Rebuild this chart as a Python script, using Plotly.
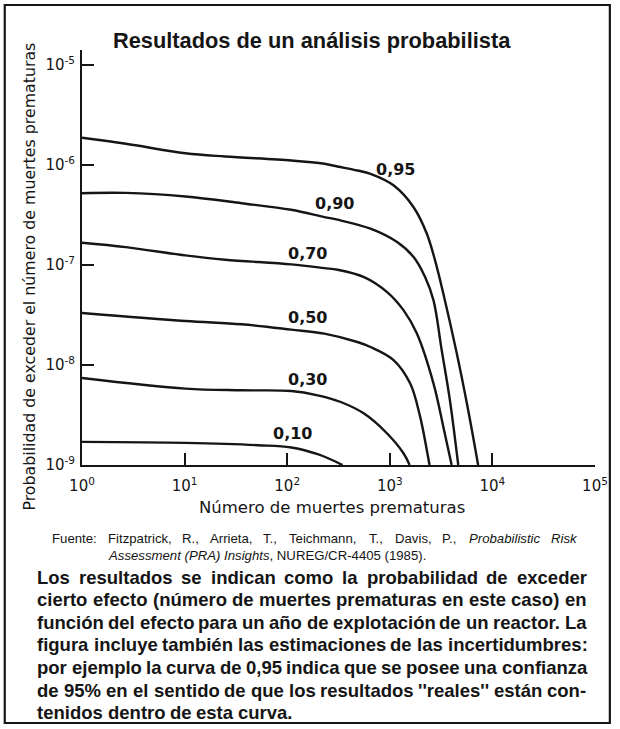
import plotly.graph_objects as go

# ---------------- data (log10 values) ----------------
# x: log10(número de muertes prematuras), y: log10(probabilidad de exceder)
logn_095 = [0, 0.427, 1.008, 1.395, 2.039, 2.362, 2.49, 2.684, 2.812, 3.039, 3.232, 3.361, 3.441, 3.522, 3.65, 3.76, 3.861]
logp_095 = [-5.728, -5.788, -5.882, -5.915, -5.955, -5.988, -6.015, -6.055, -6.088, -6.205, -6.422, -6.687, -6.954, -7.287, -7.87, -8.43, -9.0]

logn_090 = [0, 0.427, 1.008, 1.555, 2.039, 2.362, 2.49, 2.812, 3.071, 3.232, 3.344, 3.426, 3.506, 3.586, 3.667]
logp_090 = [-6.282, -6.279, -6.315, -6.382, -6.448, -6.521, -6.547, -6.637, -6.771, -6.921, -7.121, -7.354, -7.853, -8.353, -9.0]

logn_070 = [0, 0.427, 1.008, 1.395, 2.039, 2.362, 2.49, 2.749, 2.974, 3.135, 3.264, 3.426, 3.522, 3.603]
logp_070 = [-6.777, -6.821, -6.904, -6.947, -6.994, -7.031, -7.047, -7.121, -7.271, -7.454, -7.686, -8.186, -8.619, -9.0]

logn_050 = [0, 1.008, 1.555, 2.039, 2.362, 2.684, 2.812, 3.039, 3.199, 3.296, 3.361, 3.387]
logp_050 = [-7.48, -7.56, -7.593, -7.646, -7.686, -7.77, -7.82, -7.953, -8.186, -8.519, -8.852, -9.0]

logn_030 = [0, 1.008, 1.555, 2.039, 2.297, 2.522, 2.749, 2.974, 3.135, 3.193]
logp_030 = [-8.13, -8.236, -8.253, -8.26, -8.303, -8.37, -8.486, -8.685, -8.885, -9.0]

logn_010 = [0, 1.008, 1.717, 2.039, 2.297, 2.426, 2.539]
logp_010 = [-8.769, -8.779, -8.802, -8.825, -8.892, -8.945, -9.0]

curve_labels = ["0,95", "0,90", "0,70", "0,50", "0,30", "0,10"]
label_logn = [3.06, 2.458, 2.2, 2.2, 2.2, 2.055]
label_logp = [-6.04, -6.388, -6.881, -7.52, -8.146, -8.685]

x_tick_exp = [0, 1, 2, 3, 4, 5]
y_tick_exp = [-9, -8, -7, -6, -5]

title_text = "Resultados de un análisis probabilista"
x_title = "Número de muertes prematuras"
y_title = "Probabilidad de exceder el número de muertes prematuras"
source_line1_plain = "Fuente: Fitzpatrick, R., Arrieta, T., Teichmann, T., Davis, P.,"
source_line1_italic = "Probabilistic Risk"
source_line2 = "<i>Assessment (PRA) Insights</i>, NUREG/CR-4405 (1985)."
caption_lines = [
    "Los resultados se indican como la probabilidad de exceder",
    "cierto efecto (número de muertes prematuras en este caso) en",
    "función del efecto para un año de explotación de un reactor. La",
    "figura incluye también las estimaciones de las incertidumbres:",
    "por ejemplo la curva de 0,95 indica que se posee una confianza",
    "de 95% en el sentido de que los resultados ''reales'' están con-",
    "tenidos dentro de esta curva.",
]

# ---------------- layout geometry ----------------
W, H = 620, 729
ML, MR, MT, MB = 82, 20, 50, 264
PW = W - ML - MR
PH = H - MT - MB


def px(xp):
    return (xp - ML) / PW


def py(yp):
    return (H - MB - yp) / PH


INK = "#151515"
SANS = "Liberation Sans, Arial, sans-serif"
DEJA = "DejaVu Sans, sans-serif"

# approximate advance widths (1/1000 em) of Liberation Sans, used to justify text lines
_BOLD = {" ": 278, "'": 238, "%": 889, "(": 333, ")": 333, ",": 278, "-": 333, ".": 278, ":": 333,
         "L": 611,
         "a": 556, "b": 611, "c": 556, "d": 611, "e": 556, "f": 333, "g": 611, "h": 611, "i": 278,
         "j": 278, "k": 556, "l": 278, "m": 889, "n": 611, "o": 611, "p": 611, "q": 611, "r": 389,
         "s": 556, "t": 333, "u": 611, "v": 556, "w": 778, "x": 556, "y": 556, "z": 500,
         "á": 556, "é": 556, "í": 278, "ó": 611, "ú": 611, "ñ": 611}
_REG = {" ": 278, "(": 333, ")": 333, ",": 278, "-": 333, ".": 278, "/": 278, ":": 278,
        "A": 667, "C": 722, "D": 722, "F": 611, "P": 667, "R": 722, "T": 611,
        "a": 556, "b": 556, "c": 500, "d": 556, "e": 556, "f": 278, "g": 556, "h": 556, "i": 222,
        "k": 500, "l": 222, "m": 833, "n": 556, "o": 556, "p": 556, "r": 333, "s": 500, "t": 278,
        "u": 556, "v": 500, "z": 500}


def text_w(s, table, size):
    return sum(table.get(ch, 556) for ch in s) * size / 1000.0


def justified(words, x0, x1, y, size, table, family, styles=None, justify=True):
    """Return annotations placing the words of one line between x0 and x1 (pixels)."""
    widths = [text_w(w, table, size) for w in words]
    if justify and len(words) > 1:
        gap = (x1 - x0 - sum(widths)) / (len(words) - 1)
    else:
        gap = table[" "] * size / 1000.0
    out = []
    x = x0
    for i, (w, wd) in enumerate(zip(words, widths)):
        txt = w if styles is None else styles[i] % w
        out.append(dict(
            x=px(x), y=py(y), xref="paper", yref="paper", text=txt, showarrow=False,
            font=dict(family=family, size=size, color=INK), xanchor="left", yanchor="middle",
            borderpad=0,
        ))
        x += wd + gap
    return out


fig = go.Figure()

curves = [
    (logn_095, logp_095),
    (logn_090, logp_090),
    (logn_070, logp_070),
    (logn_050, logp_050),
    (logn_030, logp_030),
    (logn_010, logp_010),
]
for ln, lp in curves:
    fig.add_trace(go.Scatter(
        x=[10 ** v for v in ln],
        y=[10 ** v for v in lp],
        mode="lines",
        line=dict(color=INK, width=2.4, shape="spline", smoothing=1.0),
        hoverinfo="skip",
        showlegend=False,
    ))

annotations = []
for t, lx, ly in zip(curve_labels, label_logn, label_logp):
    annotations.append(dict(
        x=lx, y=ly, xref="x", yref="y", text="<b>%s</b>" % t, showarrow=False,
        font=dict(family=DEJA, size=16, color=INK), xanchor="center", yanchor="middle",
    ))

annotations.append(dict(
    x=px(314), y=py(40.5), xref="paper", yref="paper", text="<b>%s</b>" % title_text,
    showarrow=False, font=dict(family=SANS, size=21.8, color=INK),
    xanchor="center", yanchor="middle",
))
annotations.append(dict(
    x=px(334.5), y=py(507), xref="paper", yref="paper", text=x_title,
    showarrow=False, font=dict(family=DEJA, size=16.5, color=INK),
    xanchor="center", yanchor="middle",
))
annotations.append(dict(
    x=px(28), y=py(277), xref="paper", yref="paper", text=y_title, textangle=-90,
    showarrow=False, font=dict(family=DEJA, size=15.8, color=INK),
    xanchor="center", yanchor="middle",
))

# source (first line justified, second line flush left)
src_words = source_line1_plain.split(" ") + source_line1_italic.split(" ")
src_styles = ["%s"] * len(source_line1_plain.split(" ")) + ["<i>%s</i>"] * len(source_line1_italic.split(" "))
annotations += justified(src_words, 51, 580, 538, 13.2, _REG, SANS, styles=src_styles)
annotations.append(dict(
    x=px(107), y=py(555), xref="paper", yref="paper", text=source_line2,
    showarrow=False, font=dict(family=SANS, size=13.2, color=INK),
    xanchor="left", yanchor="middle", borderpad=0,
))

# caption block (justified, last line flush left)
for i, line in enumerate(caption_lines):
    words = line.split(" ")
    annotations += justified(
        words, 36, 590, 577 + 22.65 * i, 18.5, _BOLD, SANS,
        styles=["<b>%s</b>"] * len(words), justify=(i < len(caption_lines) - 1),
    )

fig.update_layout(
    width=W, height=H,
    margin=dict(l=ML, r=MR, t=MT, b=MB, pad=0),
    paper_bgcolor="white", plot_bgcolor="white",
    showlegend=False,
    hovermode=False,
    annotations=annotations,
    shapes=[dict(
        type="rect", xref="paper", yref="paper",
        x0=px(4), x1=px(615), y0=py(723), y1=py(5),
        line=dict(color=INK, width=2.2), fillcolor="rgba(0,0,0,0)", layer="below",
    )],
)

fig.update_xaxes(
    type="log", range=[0, 5],
    tickvals=[10 ** e for e in x_tick_exp],
    ticktext=["10<sup>%d</sup>" % e for e in x_tick_exp],
    ticks="inside", ticklen=12, tickwidth=2, tickcolor=INK,
    showline=True, linewidth=2, linecolor=INK,
    showgrid=False, zeroline=False,
    tickfont=dict(family=DEJA, size=15, color=INK),
    ticklabelstandoff=6,
)
fig.update_yaxes(
    type="log", range=[-9, -4.85],
    tickvals=[10 ** e for e in y_tick_exp],
    ticktext=["10<sup>%d</sup>" % e for e in y_tick_exp],
    ticks="inside", ticklen=12, tickwidth=2, tickcolor=INK,
    showline=True, linewidth=2, linecolor=INK,
    showgrid=False, zeroline=False,
    tickfont=dict(family=DEJA, size=15, color=INK),
    ticklabelstandoff=2,
)

fig.write_html(
    "out.html",
    config={"displayModeBar": False, "staticPlot": True},
    post_script="document.body.style.margin='0px';document.body.style.overflow='hidden';",
)
